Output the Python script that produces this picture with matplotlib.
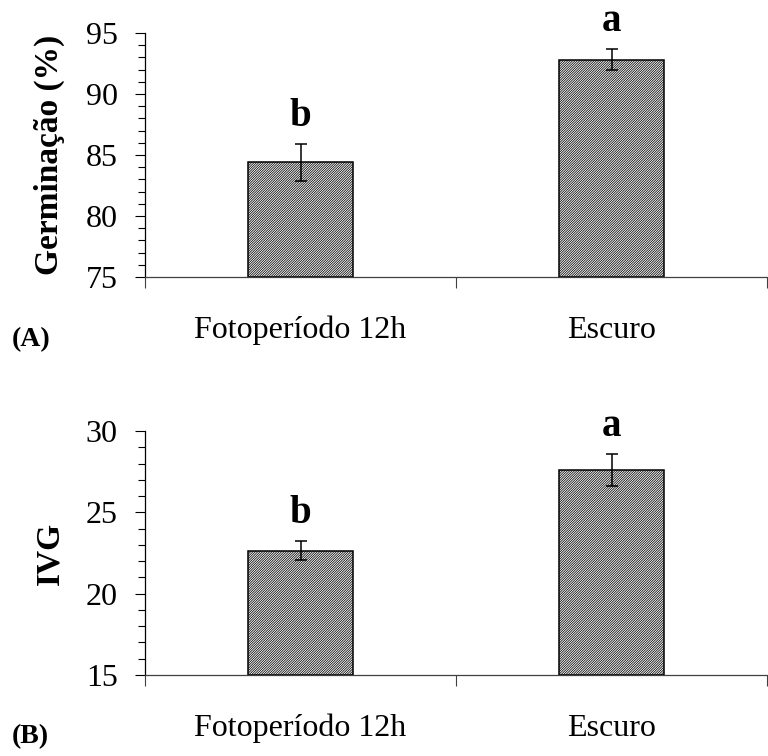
import matplotlib
matplotlib.use("Agg")
import matplotlib.pyplot as plt
import numpy as np

plt.rcParams['font.family'] = ['Liberation Serif', 'DejaVu Serif']
plt.rcParams['hatch.linewidth'] = 0.55

categories = ["Fotoperíodo 12h", "Escuro"]

germ = [84.4, 92.8]
germ_err = [1.5, 0.85]
germ_letters = ["b", "a"]

ivg = [22.65, 27.6]
ivg_err = [0.58, 1.0]
ivg_letters = ["b", "a"]

fig = plt.figure(figsize=(7.68, 7.56), dpi=100)
ax1 = fig.add_axes([145/768, 1 - 277/756, 622/768, 244/756])
ax2 = fig.add_axes([145/768, 1 - 675/756, 622/768, 244/756])


def panel(ax, vals, errs, letters, ylim, yticks, ylabel, tag, tag_y):
    x = np.arange(len(vals)) + 0.5
    ax.bar(x, np.array(vals) - ylim[0], bottom=ylim[0], width=0.335,
           facecolor="white", edgecolor="black", hatch="/" * 14, linewidth=1.1)
    ax.errorbar(x, vals, yerr=errs, fmt="none", ecolor="black",
                elinewidth=1.1, capsize=4, capthick=1.1)
    for xi, v, e, l in zip(x, vals, errs, letters):
        ax.annotate(l, (xi, v + e), xytext=(0, 13), textcoords="offset points",
                    ha="center", va="baseline", fontsize=28, fontweight="bold")
    ax.set_xlim(0, len(vals))
    ax.set_ylim(*ylim)
    ax.set_yticks(yticks)
    ax.set_yticks(np.arange(ylim[0], ylim[1] + 0.5, 1), minor=True)
    ax.set_xticks([0, 1, 2])
    ax.set_xticklabels([])
    ax.set_xticks(x, minor=True)
    ax.set_xticklabels(categories, minor=True, fontsize=23)
    ax.tick_params(axis="x", which="major", direction="out", length=8, width=0.8, color="#404040")
    ax.tick_params(axis="x", which="minor", length=0, pad=28)
    ax.tick_params(axis="y", which="major", direction="out", length=7.5, width=0.8,
                   labelsize=23, pad=12)
    ax.tick_params(axis="y", which="minor", direction="out", length=5, width=0.8)
    ax.spines["top"].set_visible(False)
    ax.spines["right"].set_visible(False)
    ax.spines["bottom"].set_color("#404040")
    ax.spines["left"].set_linewidth(0.9)
    ax.spines["bottom"].set_linewidth(0.9)
    ax.set_ylabel(ylabel, fontsize=24, fontweight="bold")
    ax.yaxis.set_label_coords(-80/622, 0.5)
    fig.text(12/768, tag_y, tag, fontsize=20, fontweight="bold", ha="left", va="center")


panel(ax1, germ, germ_err, germ_letters, (75, 95), [75, 80, 85, 90, 95],
      "Germinação (%)", "(A)", 1 - 340/756)
panel(ax2, ivg, ivg_err, ivg_letters, (15, 30), [15, 20, 25, 30],
      "IVG", "(B)", 1 - 737/756)

fig.savefig("out.png", dpi=100)
